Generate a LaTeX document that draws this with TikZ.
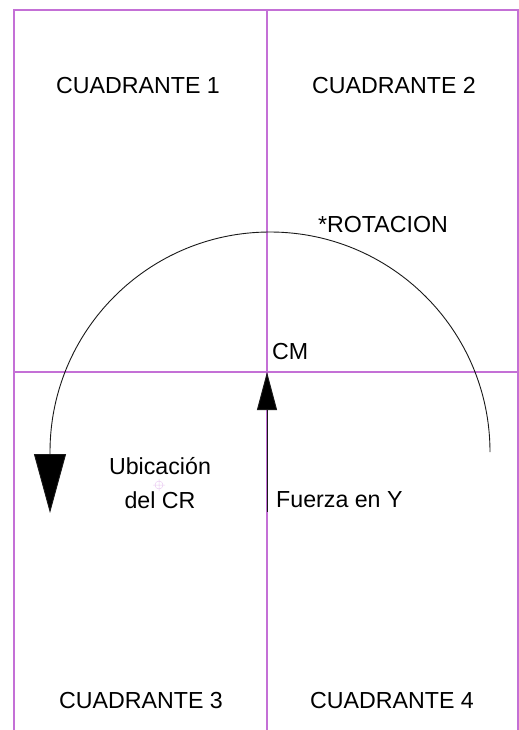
\documentclass[tikz,border=0pt]{standalone}
\usepackage{fontspec}
\setmainfont{Liberation Sans}
\usepackage{tikz}
\usetikzlibrary{arrows.meta,positioning}
\definecolor{ejecol}{RGB}{196,112,214}
\tikzset{
  eje/.style={draw=ejecol, line width=1.3bp},
  lbl/.style={font=\fontsize{23.2bp}{34bp}\selectfont, inner sep=0pt, align=center},
  flecha/.style={draw=black!90, line width=0.9bp}}

\begin{document}
\begin{tikzpicture}[x=1bp, y=-1bp]
  \useasboundingbox (0,0) rectangle (519,730);
  % marco y ejes
  \draw[eje] (14,730) -- (14,10) -- (518,10) -- (518,730);
  \draw[eje] (267,10) -- (267,730);
  \draw[eje] (14,372) -- (519,372);
  \coordinate (cm) at (267,372);
  % textos
  \node[lbl] (c1) at (138,86) {CUADRANTE 1};
  \node[lbl] (c2) at (394,86) {CUADRANTE 2};
  \node[lbl] (c3) at (141,701) {CUADRANTE 3};
  \node[lbl] (c4) at (392,701) {CUADRANTE 4};
  \node[lbl] (rot) at (383,225) {*ROTACION};
  \node[lbl, anchor=west] (cmlbl) at (272,352) {CM};
  \node[lbl] (cr) at (160,483) {Ubicación\\del CR};
  \node[lbl, anchor=west] (fy) at (276,500) {Fuerza en Y};
  % marca del CR
  \draw[ejecol!35, line width=0.5bp] (159,485) circle (4) (153,485) -- (165,485) (159,479) -- (159,491);
  % rotacion
  \coordinate (rotA) at (490,452);
  \draw[flecha, -{Triangle[length=59bp, width=32bp, fill=black]}] (rotA) arc[start angle=0, end angle=-180, radius=220] -- ++(0,61);
  % fuerza
  \coordinate (fbase) at (267,512);
  \draw[flecha, -{Triangle[length=38bp, width=20bp, fill=black]}] (fbase) -- (cm);
\end{tikzpicture}
\end{document}
